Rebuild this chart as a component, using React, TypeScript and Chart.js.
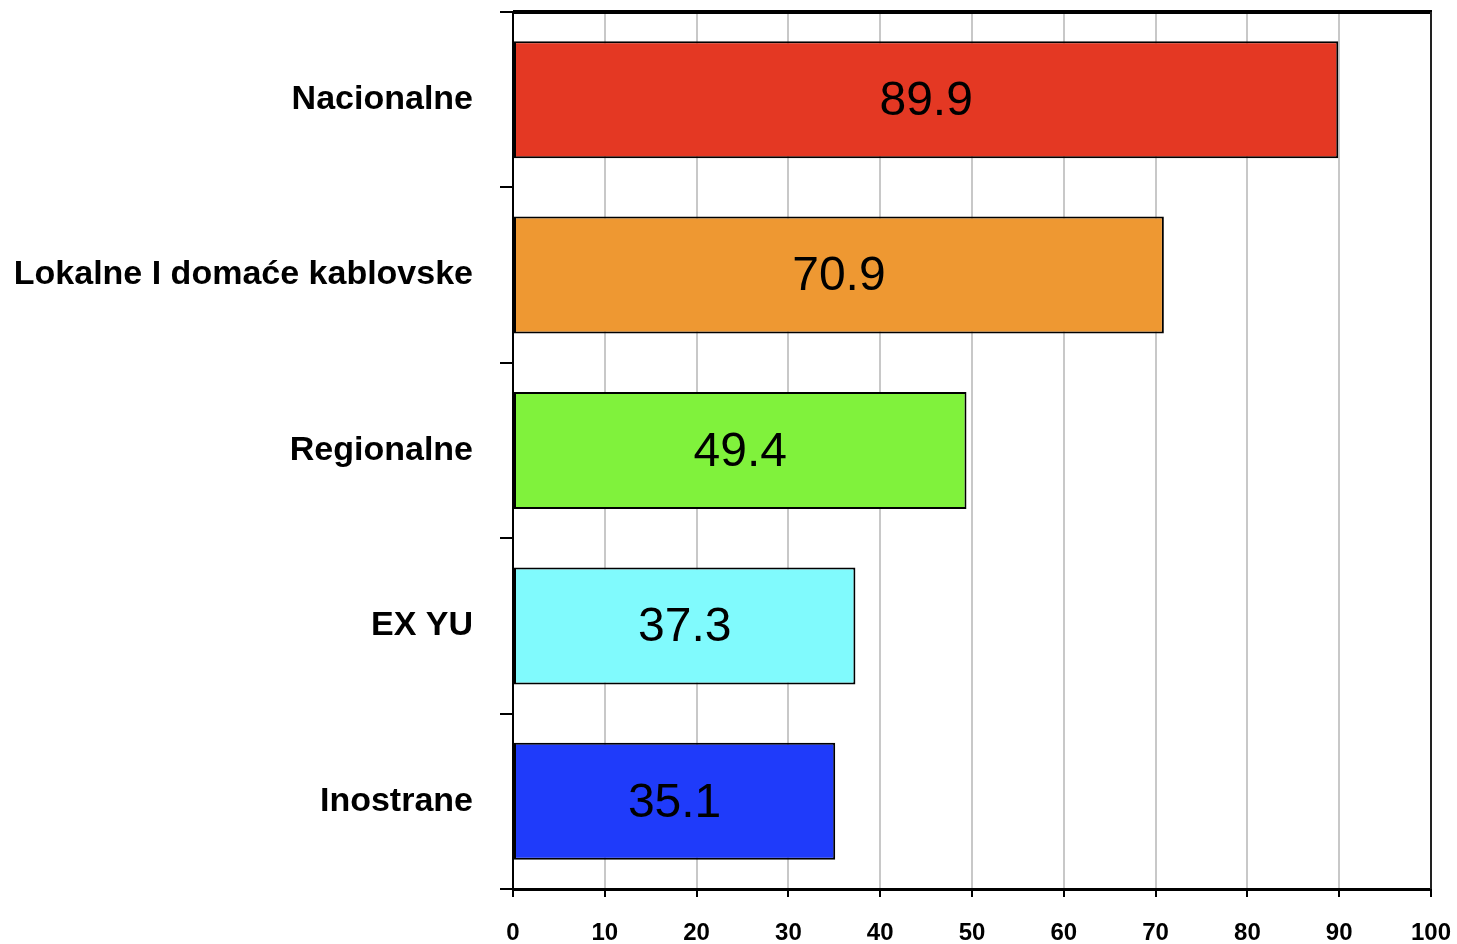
import React, { useEffect, useRef } from "react";
import { Chart, registerables } from "chart.js";

Chart.register(...registerables);

const categories = ["Nacionalne", "Lokalne I domaće kablovske", "Regionalne", "EX YU", "Inostrane"];
const values = [89.9, 70.9, 49.4, 37.3, 35.1];
const barColors = ["#E43823", "#EE9832", "#80F23C", "#80FAFD", "#1F3BFA"];
const xTicks = [0, 10, 20, 30, 40, 50, 60, 70, 80, 90, 100];

const framePlugin = {
  id: "frame",
  afterDraw(chart: any) {
    const { ctx, chartArea } = chart;
    ctx.save();
    ctx.strokeStyle = "#000";
    ctx.lineWidth = 4;
    ctx.beginPath();
    ctx.moveTo(chartArea.left, chartArea.top);
    ctx.lineTo(chartArea.right + 1, chartArea.top);
    ctx.stroke();
    ctx.lineWidth = 2;
    ctx.strokeStyle = "#222";
    ctx.beginPath();
    ctx.moveTo(chartArea.right, chartArea.top);
    ctx.lineTo(chartArea.right, chartArea.bottom);
    ctx.stroke();
    ctx.restore();
  },
};

const labelPlugin = {
  id: "valueLabels",
  afterDatasetsDraw(chart: any) {
    const { ctx } = chart;
    const meta = chart.getDatasetMeta(0);
    ctx.save();
    ctx.font = "48px 'Liberation Sans', Arial, sans-serif";
    ctx.fillStyle = "#000";
    ctx.textAlign = "center";
    ctx.textBaseline = "middle";
    meta.data.forEach((bar: any, i: number) => {
      const p = bar.getProps(["x", "y", "base"], true);
      ctx.fillText(values[i].toFixed(1), (p.x + p.base) / 2, p.y + 2);
    });
    ctx.restore();
  },
};

const zeroPad = (axis: any) => {
  axis.paddingTop = 0;
  axis.paddingBottom = 0;
  axis.paddingLeft = 0;
  axis.paddingRight = 0;
};

export default function App() {
  const ref = useRef<HTMLCanvasElement>(null);
  useEffect(() => {
    if (!ref.current) return;
    const chart = new Chart(ref.current, {
      type: "bar",
      data: {
        labels: categories,
        datasets: [
          {
            data: values,
            backgroundColor: barColors,
            borderColor: "#000",
            borderWidth: 2,
            borderSkipped: false,
            barPercentage: 0.667,
            categoryPercentage: 1,
          },
        ],
      },
      options: {
        indexAxis: "y",
        animation: false,
        responsive: false,
        layout: { padding: { top: 12, right: 26, left: 0, bottom: 0 } },
        plugins: { legend: { display: false }, tooltip: { enabled: false } },
        scales: {
          x: {
            min: 0,
            max: 100,
            afterBuildTicks: (axis: any) => {
              axis.ticks = xTicks.map((v) => ({ value: v }));
            },
            afterFit: (axis: any) => {
              axis.height = 55;
              zeroPad(axis);
            },
            grid: {
              color: "#c8c8c8",
              lineWidth: 2,
              tickColor: "#000",
              tickLength: 8,
              drawTicks: true,
            },
            border: { display: true, color: "#000", width: 3 },
            ticks: {
              color: "#000",
              padding: 22,
              maxRotation: 0,
              font: { family: "'Liberation Sans', Arial, sans-serif", size: 24, weight: "bold" },
            },
          },
          y: {
            afterFit: (axis: any) => {
              axis.width = 513;
              zeroPad(axis);
            },
            grid: {
              display: true,
              drawOnChartArea: false,
              offset: true,
              tickColor: "#000",
              tickLength: 13,
              lineWidth: 2,
            },
            border: { display: true, color: "#000", width: 2 },
            ticks: {
              color: "#000",
              padding: 27,
              font: { family: "'Liberation Sans', Arial, sans-serif", size: 34, weight: "bold" },
            },
          },
        },
      },
      plugins: [framePlugin, labelPlugin],
    });
    return () => chart.destroy();
  }, []);
  return (
    <div style={{ position: "fixed", left: 0, top: 0, width: 1457, height: 944, background: "#fff" }}>
      <canvas ref={ref} width={1457} height={944} style={{ width: 1457, height: 944 }} />
    </div>
  );
}
